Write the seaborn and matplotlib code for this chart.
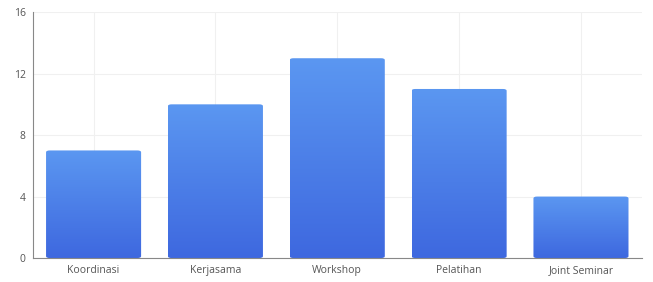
import numpy as np
import pandas as pd
import matplotlib
matplotlib.use("Agg")
import matplotlib.pyplot as plt
import seaborn as sns
from matplotlib.patches import FancyBboxPatch

# Data
categories = ["Koordinasi", "Kerjasama", "Workshop", "Pelatihan", "Joint Seminar"]
counts = [7, 10, 13, 11, 4]
y_ticks = [0, 4, 8, 12, 16]

df = pd.DataFrame({"Kegiatan": categories, "Jumlah": counts})

sns.set_style("white")
plt.rcParams["font.family"] = ["Open Sans", "DejaVu Sans"]

fig, ax = plt.subplots(figsize=(6.53, 2.82), dpi=100)
fig.subplots_adjust(left=0.05, right=0.983, top=0.957, bottom=0.085)

sns.barplot(data=df, x="Kegiatan", y="Jumlah", color="#4f86ea", width=0.78, ax=ax, zorder=2)

# vertical gradient fill, clipped to a rounded version of each bar
grad = np.linspace(0, 1, 256).reshape(-1, 1)
cmap = matplotlib.colors.LinearSegmentedColormap.from_list("g", ["#3e68df", "#5b97f1"])
for p in list(ax.patches):
    x0, y0 = p.get_x(), p.get_y()
    w, h = p.get_width(), p.get_height()
    p.set_visible(False)
    rb = FancyBboxPatch((x0, y0), w, h, boxstyle="round,pad=0,rounding_size=0.03",
                        mutation_aspect=4, transform=ax.transData,
                        facecolor="none", edgecolor="none")
    ax.add_patch(rb)
    im = ax.imshow(grad, extent=[x0, x0 + w, y0, y0 + h], origin="lower",
                   cmap=cmap, aspect="auto", zorder=2)
    im.set_clip_path(rb)

ax.set_xlim(-0.5, len(categories) - 0.5)
ax.set_ylim(0, 16)
ax.set_yticks(y_ticks)
ax.set_xlabel("")
ax.set_ylabel("")

ax.grid(True, color="#f0f0f0", linewidth=0.8, zorder=0)
ax.set_axisbelow(True)
for s in ["top", "right"]:
    ax.spines[s].set_visible(False)
ax.spines["left"].set_color("#888888")
ax.spines["bottom"].set_color("#888888")
ax.tick_params(axis="both", length=3, width=0.8, color="#888888",
               labelsize=7.5, labelcolor="#555555", pad=2)

fig.savefig("out.png", dpi=100)
